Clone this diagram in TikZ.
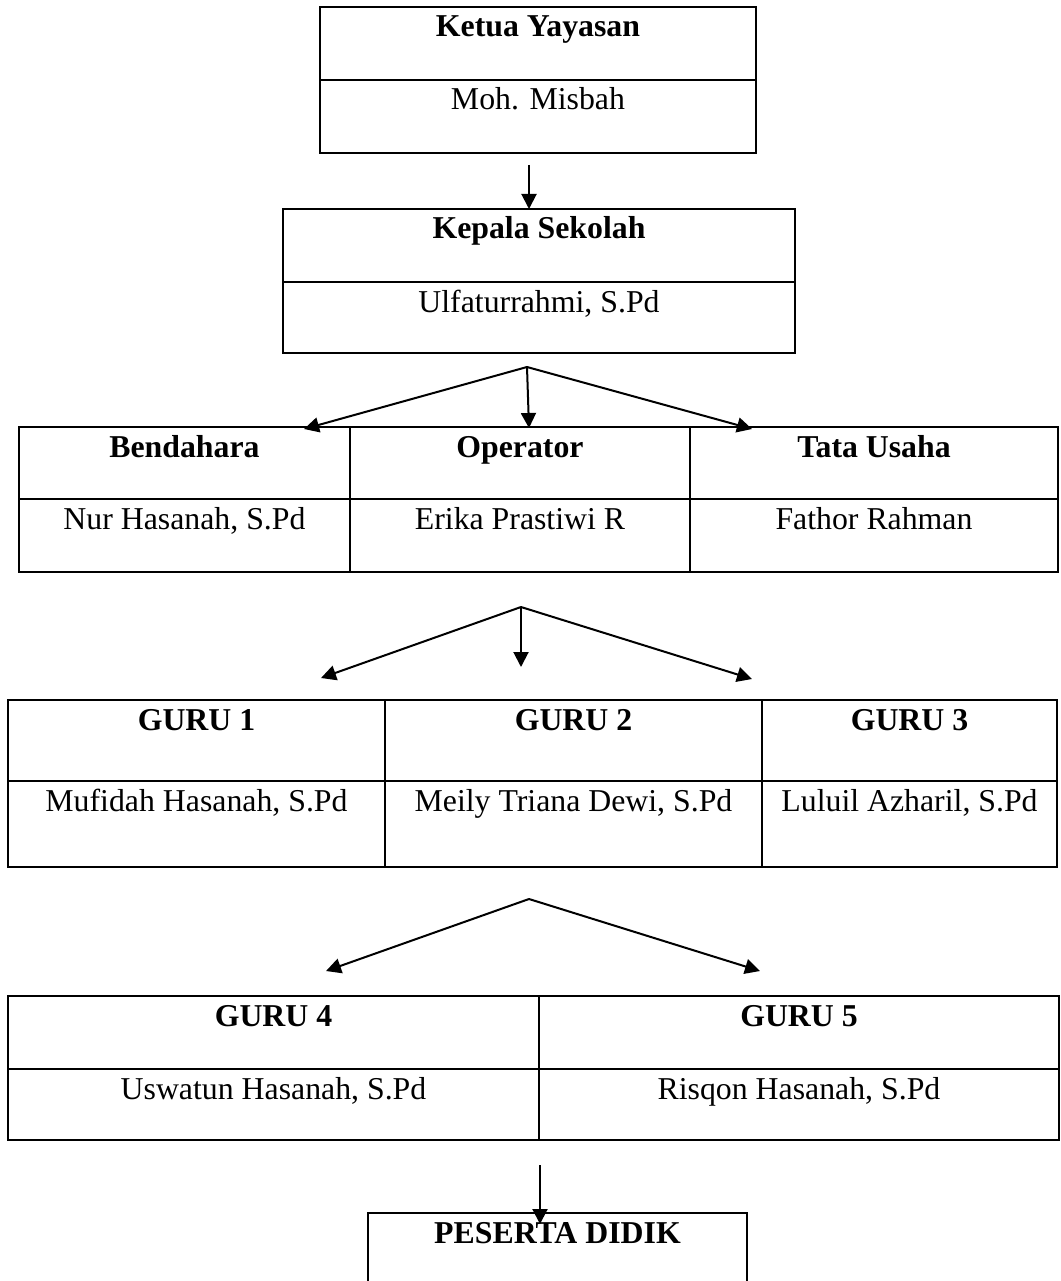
\documentclass[tikz,border=0pt]{standalone}
\usepackage{fontspec}
\setmainfont{Liberation Serif}
\usetikzlibrary{arrows.meta}
\tikzset{
  cellbox/.style={draw, line width=2pt, inner sep=0pt, outer sep=0pt, rectangle},
  celltxt/.style={anchor=base, inner sep=0pt, font=\fontsize{31.8}{38}\selectfont},
  conn/.style={line width=2pt, -{Triangle[length=15pt,width=15pt]}}
}
% name, x1, y1, x2, y2, text
\newcommand\mkcell[6]{%
  \node[cellbox, minimum width={(#4-#2)*1pt}, minimum height={(#5-#3)*1pt}] (#1) at ({(#2+#4)/2},{(#3+#5)/2}) {};
  \node[celltxt] (#1t) at ({(#2+#4)/2},{#3+30}) {#6};
}
\begin{document}
\begin{tikzpicture}[x=1pt,y=-1pt]
\clip (0,0) rectangle (1060,1281);
\useasboundingbox (0,0) rectangle (1060,1281);

% Ketua Yayasan
\mkcell{k1}{320}{7}{756}{80}{\textbf{Ketua Yayasan}}
\mkcell{k2}{320}{80}{756}{153}{Moh. Misbah}
% Kepala Sekolah
\mkcell{p1}{283}{209}{795}{282}{\textbf{Kepala Sekolah}}
\mkcell{p2}{283}{282}{795}{353}{Ulfaturrahmi, S.Pd}
% Bendahara / Operator / Tata Usaha
\mkcell{b1}{19}{427}{350}{499}{\textbf{Bendahara}}
\mkcell{b2}{19}{499}{350}{572}{Nur Hasanah, S.Pd}
\mkcell{o1}{350}{427}{690}{499}{\textbf{Operator}}
\mkcell{o2}{350}{499}{690}{572}{Erika Prastiwi R}
\mkcell{t1}{690}{427}{1058}{499}{\textbf{Tata Usaha}}
\mkcell{t2}{690}{499}{1058}{572}{Fathor Rahman}
% Guru 1-3
\mkcell{ga1}{8}{700}{385}{781}{\textbf{GURU 1}}
\mkcell{ga2}{8}{781}{385}{867}{Mufidah Hasanah, S.Pd}
\mkcell{gb1}{385}{700}{762}{781}{\textbf{GURU 2}}
\mkcell{gb2}{385}{781}{762}{867}{Meily Triana Dewi, S.Pd}
\mkcell{gc1}{762}{700}{1057}{781}{\textbf{GURU 3}}
\mkcell{gc2}{762}{781}{1057}{867}{Luluil Azharil, S.Pd}
% Guru 4-5
\mkcell{gd1}{8}{996}{539}{1069}{\textbf{GURU 4}}
\mkcell{gd2}{8}{1069}{539}{1140}{Uswatun Hasanah, S.Pd}
\mkcell{ge1}{539}{996}{1059}{1069}{\textbf{GURU 5}}
\mkcell{ge2}{539}{1069}{1059}{1140}{Risqon Hasanah, S.Pd}
% Peserta didik
\mkcell{pd}{368}{1213}{747}{1300}{\textbf{PESERTA DIDIK}}

% connector points
\coordinate (a1s) at (529,165);
\coordinate (a1e) at (529,209);
\coordinate (f1) at (527,367);
\coordinate (f1l) at (304,429);
\coordinate (f1c) at (529,428);
\coordinate (f1r) at (752,429);
\coordinate (f2) at (521,607);
\coordinate (f2l) at (321,678);
\coordinate (f2c) at (521,667);
\coordinate (f2r) at (752,679);
\coordinate (f3) at (529,899);
\coordinate (f3l) at (326,971);
\coordinate (f3r) at (760,971);
\coordinate (a4s) at (540,1165);
\coordinate (a4e) at (540,1224);

\draw[conn] (a1s) -- (a1e);
\draw[conn] (f1) -- (f1l);
\draw[conn] (f1) -- (f1c);
\draw[conn] (f1) -- (f1r);
\draw[conn] (f2) -- (f2l);
\draw[conn] (f2) -- (f2c);
\draw[conn] (f2) -- (f2r);
\draw[conn] (f3) -- (f3l);
\draw[conn] (f3) -- (f3r);
\draw[conn] (a4s) -- (a4e);
\end{tikzpicture}
\end{document}
